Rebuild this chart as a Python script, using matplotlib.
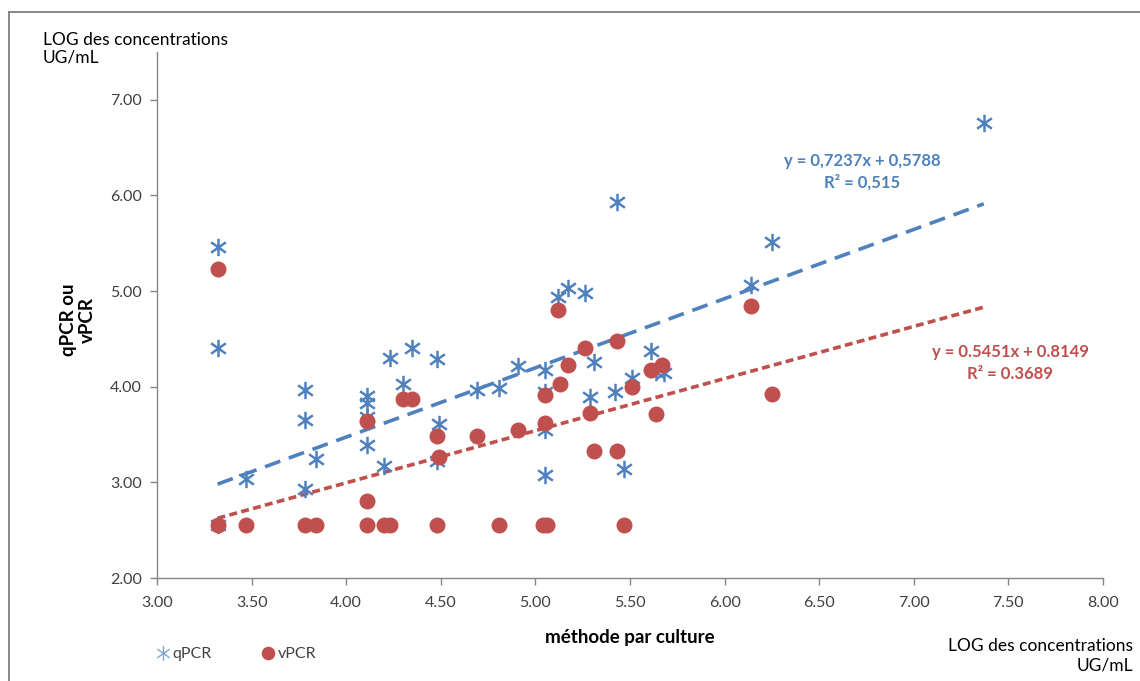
import matplotlib.pyplot as plt
import numpy as np
from matplotlib.path import Path
from matplotlib.lines import Line2D

plt.rcParams['font.family'] = ['Lato', 'DejaVu Sans']

# culture method (x) vs qPCR results (y)
q_x = [3.32, 3.32, 3.32, 3.47, 3.78, 3.78, 3.78, 3.84, 4.11, 4.11, 4.11, 4.11,
       4.20, 4.23, 4.30, 4.35, 4.48, 4.49, 4.48, 4.69, 4.81, 4.91, 5.05, 5.05,
       5.05, 5.05, 5.12, 5.17, 5.26, 5.31, 5.29, 5.42, 5.43, 5.51, 5.47, 5.61,
       5.64, 5.68, 6.14, 6.25, 7.37]
q_y = [5.46, 4.41, 2.55, 3.04, 3.97, 3.65, 2.93, 3.24, 3.90, 3.83, 3.68, 3.39,
       3.17, 4.30, 4.03, 4.41, 4.29, 3.61, 3.22, 3.97, 3.99, 4.22, 4.18, 3.94,
       3.55, 3.08, 4.94, 5.03, 4.98, 4.26, 3.89, 3.94, 5.93, 4.09, 3.14, 4.37,
       4.15, 4.14, 5.06, 5.51, 6.76]

# culture method (x) vs vPCR results (y)
v_x = [3.32, 3.32, 3.47, 3.78, 3.84, 4.11, 4.11, 4.11, 4.20, 4.23, 4.30, 4.35,
       4.48, 4.49, 4.48, 4.69, 4.81, 4.91, 5.05, 5.05, 5.04, 5.06, 5.12, 5.13,
       5.17, 5.26, 5.29, 5.31, 5.43, 5.43, 5.47, 5.51, 5.61, 5.67, 5.64, 6.14,
       6.25]
v_y = [5.23, 2.55, 2.55, 2.55, 2.55, 2.80, 2.55, 3.64, 2.55, 2.55, 3.87, 3.87,
       3.48, 3.26, 2.55, 3.48, 2.55, 3.55, 3.62, 3.91, 2.55, 2.55, 4.80, 4.03,
       4.23, 4.40, 3.73, 3.33, 3.33, 4.48, 2.55, 4.00, 4.17, 4.23, 3.72, 4.84,
       3.92]

# trend lines (slope, intercept) and their x range
q_fit = (0.7237, 0.5788)
v_fit = (0.5451, 0.8149)
fit_range = (3.32, 7.37)

blue = '#4F81BD'
red = '#C0504D'
axis_col = '#868686'
text_col = '#404040'

star = Path([(0, -1), (0, 1), (-0.85, -0.6), (0.85, 0.6), (-0.85, 0.6), (0.85, -0.6)],
            [Path.MOVETO, Path.LINETO, Path.MOVETO, Path.LINETO, Path.MOVETO, Path.LINETO])

fig = plt.figure(figsize=(11.4, 6.81), dpi=100)

# chart border (left and top edges)
bx, by = 8.5 / 1140, 1 - 11.5 / 681
fig.add_artist(Line2D([bx, bx], [0, by], transform=fig.transFigure, color='#7F7F7F', lw=1.3))
fig.add_artist(Line2D([bx, 1], [by, by], transform=fig.transFigure, color='#7F7F7F', lw=1.3))

ax = fig.add_axes([157 / 1140, 1 - 578 / 681, (1103 - 157) / 1140, (578 - 52) / 681])

xs = np.array(fit_range)
ax.plot(xs, q_fit[0] * xs + q_fit[1], color=blue, lw=2.6, dashes=(4.5, 2.5), zorder=2)
ax.plot(xs, v_fit[0] * xs + v_fit[1], color=red, lw=2.6, dashes=(2.2, 1.2), zorder=2)

ax.plot(q_x, q_y, linestyle='none', marker=star, markersize=12.5, markeredgewidth=1.8,
        color=blue, label='qPCR', zorder=3)
ax.plot(v_x, v_y, linestyle='none', marker='o', markersize=11.5, markeredgewidth=0,
        color=red, label='vPCR', zorder=4)

ax.set_xlim(3, 8)
ax.set_ylim(2, 7.5)
ax.set_xticks(np.arange(3, 8.01, 0.5))
ax.set_yticks(np.arange(2, 7.01, 1))
ax.xaxis.set_major_formatter(plt.FormatStrFormatter('%.2f'))
ax.yaxis.set_major_formatter(plt.FormatStrFormatter('%.2f'))
ax.tick_params(direction='out', length=5, width=1, color=axis_col, labelcolor=text_col,
               labelsize=11.5)
ax.tick_params(axis='x', pad=8)
ax.tick_params(axis='y', pad=6)
for side in ['top', 'right']:
    ax.spines[side].set_visible(False)
for side in ['left', 'bottom']:
    ax.spines[side].set_color(axis_col)
    ax.spines[side].set_linewidth(1)

ax.set_xlabel('méthode par culture', fontsize=13.5, fontweight='bold', color='black', labelpad=14)
fig.text(78 / 1140, 1 - 320 / 681, 'qPCR ou\nvPCR', rotation=90, ha='center', va='center',
         fontsize=13.5, fontweight='bold', color='black', linespacing=1.1)

fig.text(43 / 1140, 1 - 49 / 681, 'LOG des concentrations\nUG/mL', ha='left', va='center',
         fontsize=12.5, color='black', linespacing=1.15, zorder=5)
fig.text(1133 / 1140, 1 - 656 / 681, 'LOG des concentrations\nUG/mL', ha='right', va='center',
         fontsize=12.5, color='black', linespacing=1.3, multialignment='right')

fig.text(862 / 1140, 1 - 172 / 681, 'y = 0,7237x + 0,5788\nR² = 0,515', ha='center', va='center',
         fontsize=12, fontweight='bold', color=blue, linespacing=1.4)
fig.text(1010 / 1140, 1 - 363 / 681, 'y = 0.5451x + 0.8149\nR² = 0.3689', ha='center', va='center',
         fontsize=12, fontweight='bold', color=red, linespacing=1.4)

leg = fig.legend(loc='center left', bbox_to_anchor=(144 / 1140, 1 - 654 / 681), ncol=2,
                 frameon=False, fontsize=11.5, handlelength=0.6, handletextpad=0.3,
                 columnspacing=3.2, markerscale=0.85)
for t in leg.get_texts():
    t.set_color(text_col)
leg.legend_handles[0].set_markeredgewidth(1)
leg.legend_handles[0].set_alpha(0.7)

fig.savefig('out.png', dpi=100)
